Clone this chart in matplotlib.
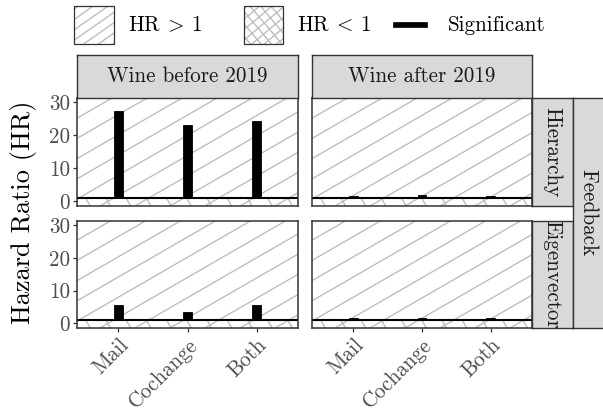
import numpy as np
import matplotlib
matplotlib.use("Agg")
import matplotlib.pyplot as plt
from matplotlib.patches import Rectangle
from matplotlib.collections import LineCollection

plt.rcParams["font.family"] = ["cmr10", "DejaVu Serif"]
plt.rcParams["mathtext.fontset"] = "cm"
plt.rcParams["axes.formatter.use_mathtext"] = True

# ---- data -------------------------------------------------------------
categories = ["Mail", "Cochange", "Both"]
col_labels = ["Wine before 2019", "Wine after 2019"]
row_labels = ["Hierarchy", "Eigenvector"]
outer_label = "Feedback"
y_ticks = [0, 10, 20, 30]

hr_before_hierarchy = [27.2, 23.0, 24.2]
hr_after_hierarchy = [1.7, 1.8, 1.5]
hr_before_eigen = [5.7, 3.6, 5.7]
hr_after_eigen = [1.6, 1.5, 1.6]

hr_values = [[hr_before_hierarchy, hr_after_hierarchy],
             [hr_before_eigen, hr_after_eigen]]
reference_hr = 1.0

# ---- layout helpers ---------------------------------------------------
W, H = 603, 416
fig = plt.figure(figsize=(W / 100, H / 100), dpi=100)

TXT = 15.2


def box(x0, y0, x1, y1):
    return [x0 / W, 1 - y1 / H, (x1 - x0) / W, (y1 - y0) / H]


BORDER = "#333333"
STRIP_BG = "#D9D9D9"
HATCH = "#BBBBBB"
TICK_TXT = "#4D4D4D"


def stripe_segments(wpx, hpx, angle, spacing, phase=0.0):
    """Parallel line segments covering a wpx x hpx pixel box (y up)."""
    t = np.radians(angle)
    d = np.array([np.cos(t), np.sin(t)])
    n = np.array([-np.sin(t), np.cos(t)])
    corners = np.array([[0, 0], [wpx, 0], [0, hpx], [wpx, hpx]])
    proj = corners @ n
    L = np.hypot(wpx, hpx) + 10
    segs = []
    k0 = int(np.floor((proj.min() - phase) / spacing)) - 1
    k1 = int(np.ceil((proj.max() - phase) / spacing)) + 1
    for k in range(k0, k1 + 1):
        c = phase + k * spacing
        segs.append([c * n - L * d, c * n + L * d])
    return np.array(segs)


def hatch_panel(ax, wpx, hpx, clip, angles, spacing, lw=0.95):
    for a in angles:
        segs = stripe_segments(wpx, hpx, a, spacing, phase=6)
        segs[:, :, 0] /= wpx
        segs[:, :, 1] /= hpx
        lc = LineCollection(segs, colors=HATCH, linewidths=lw,
                            transform=ax.transAxes, zorder=1)
        ax.add_collection(lc)
        lc.set_clip_path(clip)


col_x = [(77, 298), (312, 532)]
row_y = [(98, 206), (221, 328)]
ylim = (-1.4, 31.2)
xlim = (0.4, 3.6)
xpos = np.arange(1, len(categories) + 1)

for r, (y0, y1) in enumerate(row_y):
    for c, (x0, x1) in enumerate(col_x):
        ax = fig.add_axes(box(x0, y0, x1, y1))
        ax.set_xlim(*xlim)
        ax.set_ylim(*ylim)
        ax.set_facecolor("white")
        wpx, hpx = x1 - x0, y1 - y0

        above = Rectangle((xlim[0], reference_hr), xlim[1] - xlim[0],
                          ylim[1] - reference_hr, transform=ax.transData)
        below = Rectangle((xlim[0], ylim[0]), xlim[1] - xlim[0],
                          reference_hr - ylim[0], transform=ax.transData)
        hatch_panel(ax, wpx, hpx, above, [30], 17.5)
        hatch_panel(ax, wpx, hpx, below, [30, 120], 17.5)

        vals = np.array(hr_values[r][c])
        ax.bar(xpos, vals - reference_hr, bottom=reference_hr, width=0.13,
               color="black", edgecolor="black", linewidth=0.6, zorder=3)
        ax.axhline(reference_hr, color="black", linewidth=1.5, zorder=4)

        for s in ax.spines.values():
            s.set_color(BORDER)
            s.set_linewidth(1.1)
            s.set_zorder(5)

        ax.set_yticks(y_ticks)
        ax.set_xticks(xpos)
        ax.tick_params(length=3.2, width=0.9, color=BORDER,
                       labelcolor=TICK_TXT, labelsize=TXT, pad=2)
        if c == 0:
            ax.set_yticklabels([str(v) for v in y_ticks])
        else:
            ax.tick_params(axis="y", left=False, labelleft=False)
        if r == len(row_y) - 1:
            ax.set_xticklabels(categories, rotation=45, ha="right",
                               va="top", rotation_mode="anchor")
        else:
            ax.tick_params(axis="x", bottom=False, labelbottom=False)


def strip(x0, y0, x1, y1, text, rotation=0, size=TXT):
    sa = fig.add_axes(box(x0, y0, x1, y1))
    sa.set_facecolor(STRIP_BG)
    sa.set_xticks([])
    sa.set_yticks([])
    for s in sa.spines.values():
        s.set_color(BORDER)
        s.set_linewidth(1.0)
    sa.text(0.5, 0.5, text, transform=sa.transAxes, ha="center",
            va="center", rotation=rotation, fontsize=size, color="#1A1A1A")
    return sa


for c, (x0, x1) in enumerate(col_x):
    strip(x0, 55, x1, 98, col_labels[c])
for r, (y0, y1) in enumerate(row_y):
    strip(532, y0, 573, y1, row_labels[r], rotation=-90)
strip(573, 98, 604, 328, outer_label, rotation=-90)

fig.text(24 / W, 1 - 212 / H, "Hazard Ratio (HR)", rotation=90,
         ha="center", va="center", fontsize=19, color="black")

# ---- legend -------------------------------------------------------------
lg = fig.add_axes([0, 0, 1, 1], zorder=10)
lg.set_xlim(0, W)
lg.set_ylim(0, H)
lg.axis("off")
lg.patch.set_alpha(0)


def legend_key(x0, y0, x1, y1, angles, spacing):
    # pixel box given with y measured from the top
    ky0, ky1 = H - y1, H - y0
    clip = Rectangle((x0, ky0), x1 - x0, ky1 - ky0, transform=lg.transData)
    for a in angles:
        segs = stripe_segments(x1 - x0, ky1 - ky0, a, spacing, phase=3)
        segs[:, :, 0] += x0
        segs[:, :, 1] += ky0
        lc = LineCollection(segs, colors=HATCH, linewidths=0.95, zorder=1.5)
        lg.add_collection(lc)
        lc.set_clip_path(clip)
    lg.add_patch(Rectangle((x0, ky0), x1 - x0, ky1 - ky0, facecolor="none",
                           edgecolor=BORDER, linewidth=0.9, zorder=3))


legend_key(74, 6, 114, 44, [35], 8.5)
legend_key(244, 6, 283, 44, [40, 130], 8.0)
lg.add_patch(Rectangle((393, H - 26.5), 34, 5, facecolor="black",
                       edgecolor="black", linewidth=0.5))
lg.text(128, H - 25, r"$\mathrm{HR}\:>\:1$", ha="left", va="center",
        fontsize=TXT)
lg.text(297, H - 25, r"$\mathrm{HR}\:<\:1$", ha="left", va="center",
        fontsize=TXT)
lg.text(448, H - 25, "Significant", ha="left", va="center", fontsize=TXT)

fig.savefig("out.png", dpi=100)
